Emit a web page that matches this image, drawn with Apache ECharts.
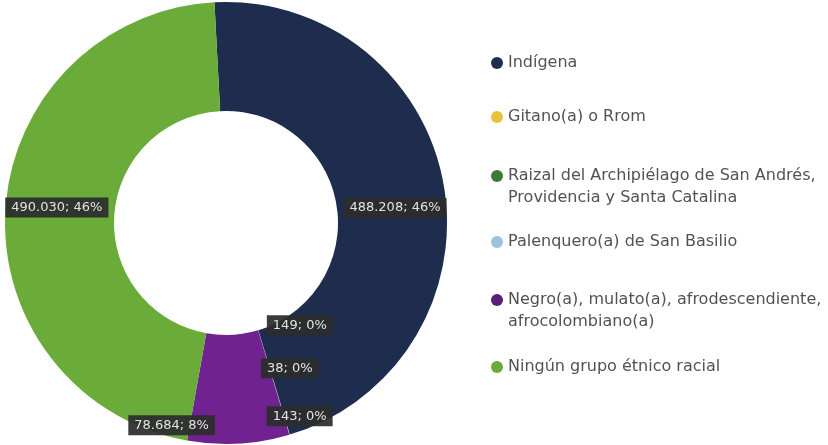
<!DOCTYPE html>
<html>
<head>
<meta charset="utf-8">
<script src="https://cdn.jsdelivr.net/npm/echarts@6/dist/echarts.min.js"></script>
<style>
  html, body { margin: 0; padding: 0; background: #fff; }
  #chart { width: 828px; height: 445px; }
</style>
</head>
<body>
<div id="chart"></div>
<script>
// Población por autorreconocimiento étnico
const groups = [
  'Indígena',
  'Gitano(a) o Rrom',
  'Raizal del Archipiélago de San Andrés, Providencia y Santa Catalina',
  'Palenquero(a) de San Basilio',
  'Negro(a), mulato(a), afrodescendiente, afrocolombiano(a)',
  'Ningún grupo étnico racial'
];
const people = [488208, 149, 38, 143, 78684, 490030];

// Legend text split into the lines shown beside each swatch
const legendLines = [
  ['Indígena'],
  ['Gitano(a) o Rrom'],
  ['Raizal del Archipiélago de San Andrés,', 'Providencia y Santa Catalina'],
  ['Palenquero(a) de San Basilio'],
  ['Negro(a), mulato(a), afrodescendiente,', 'afrocolombiano(a)'],
  ['Ningún grupo étnico racial']
];

const colors = ['#1e2d4e', '#e6c43a', '#3d7a3a', '#9cc3dc', '#6f2290', '#6aab3a'];
const legendColors = ['#1e2d4e', '#e6c43a', '#3d7a3a', '#9cc3dc', '#5a1f7a', '#6aab3a'];
const legendRowY = [63, 117, 176, 242, 300, 367];
// Nudges that keep the slice labels clear of one another
const labelOffsets = [[2, 14], [25, -60], [15, -17], [25, 31], [-64, 33], [0, -5]];

const fmt = v => String(v).replace(/\B(?=(\d{3})+(?!\d))/g, '.');

const chart = echarts.init(document.getElementById('chart'), null, { renderer: 'canvas' });

const LINE = 22;
const legends = groups.map((name, i) => {
  const lines = legendLines[i];
  // ECharts centres legend text on the swatch; a blank lead line keeps the
  // swatch level with the first line of a two-line entry.
  const text = lines.length > 1 ? ' \n' + lines.join('\n') : lines[0];
  const half = lines.length > 1 ? LINE * 1.5 : LINE / 2;
  return {
    orient: 'vertical',
    left: 491,
    top: legendRowY[i] - half,
    padding: 0,
    icon: 'circle',
    itemWidth: 12,
    itemHeight: 12,
    itemGap: 0,
    selectedMode: false,
    data: [{ name: name, itemStyle: { color: legendColors[i] } }],
    formatter: () => text,
    textStyle: {
      fontFamily: 'DejaVu Sans',
      fontSize: 16,
      color: '#525252',
      lineHeight: LINE
    }
  };
});

chart.setOption({
  animation: false,
  color: colors,
  legend: legends,
  series: [{
    type: 'pie',
    center: [226, 223],
    radius: [112, 221],
    startAngle: 93,
    clockwise: true,
    avoidLabelOverlap: false,
    percentPrecision: 0,
    itemStyle: { borderWidth: 0 },
    label: {
      show: true,
      position: 'inside',
      formatter: p => fmt(p.value) + '; ' + p.percent + '%',
      fontFamily: 'DejaVu Sans',
      fontSize: 13,
      color: '#e2e2e2',
      backgroundColor: 'rgba(44,44,44,0.93)',
      padding: [4, 6, 3, 6]
    },
    data: groups.map((name, i) => ({
      name: name,
      value: people[i],
      label: { offset: labelOffsets[i] }
    }))
  }]
});
</script>
</body>
</html>
